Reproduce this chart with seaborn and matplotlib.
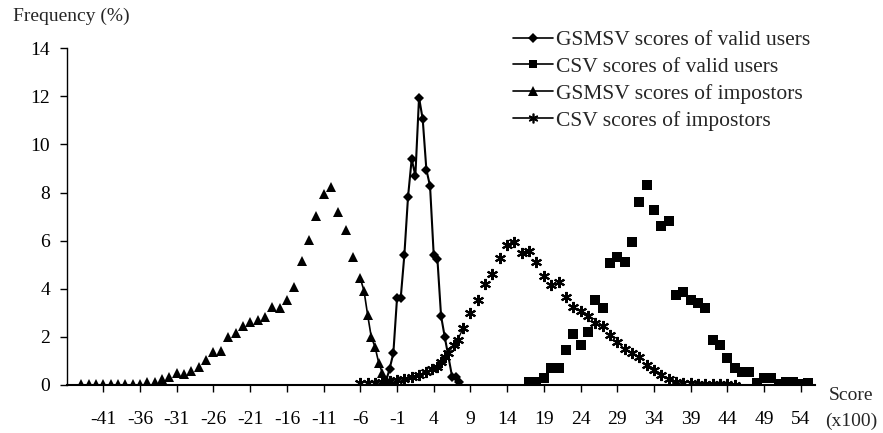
import matplotlib
matplotlib.use("Agg")
import matplotlib.pyplot as plt
import seaborn as sns
import pandas as pd
from matplotlib.lines import Line2D

# --- values (score in x100, frequency in %) ---
# GSMSV scores of impostors (triangles)
tri_x = list(range(-44, -6)) + [-6, -5.5, -5, -4.5, -4, -3.5, -3, -2.5]
tri_y = [0.02, 0.02, 0.02, 0.02, 0.02, 0.02, 0.02, 0.02, 0.03, 0.14,
         0.14, 0.24, 0.35, 0.48, 0.46, 0.60, 0.76, 1.02, 1.37, 1.40,
         2.00, 2.15, 2.47, 2.62, 2.68, 2.84, 3.24, 3.18, 3.55, 4.06,
         5.17, 6.02, 7.02, 7.95, 8.25, 7.20, 6.45, 5.30,
         4.43, 3.92, 2.91, 1.98, 1.59, 0.93, 0.50, 0.20]

# GSMSV scores of valid users (diamonds)
dia_x = [-2.5, -2, -1.5, -1, -0.5, 0, 0.5, 1, 1.5, 2, 2.5, 3, 3.5, 4, 4.5,
         5, 5.5, 6.5, 7, 7.5]
dia_y = [0.15, 0.68, 1.32, 3.60, 3.60, 5.40, 7.82, 9.39, 8.70, 11.95, 11.05,
         8.95, 8.27, 5.40, 5.25, 2.87, 2.00, 0.35, 0.35, 0.14]

# CSV scores of valid users (squares)
sq_x = list(range(17, 56))
sq_y = [0.14, 0.14, 0.28, 0.69, 0.69, 1.45, 2.12, 1.66, 2.22, 3.53,
        3.19, 5.05, 5.33, 5.12, 5.93, 7.59, 8.30, 7.27, 6.62, 6.81,
        3.74, 3.85, 3.53, 3.39, 3.19, 1.87, 1.66, 1.12, 0.69, 0.55,
        0.55, 0.10, 0.30, 0.30, 0.05, 0.12, 0.12, 0.05, 0.10]

# CSV scores of impostors (asterisks)
ast_x = list(range(-6, 4)) + [3.75, 4.5, 5, 5.5, 6, 6.75, 7.25] + list(range(8, 46))
ast_y = [0.07, 0.07, 0.10, 0.14, 0.17, 0.21, 0.24, 0.32, 0.42, 0.55,
         0.66, 0.76, 0.97, 1.15, 1.34, 1.66, 1.87,
         2.35, 2.98, 3.53, 4.18, 4.61, 5.29, 5.82, 5.96, 5.50, 5.58,
         5.10, 4.53, 4.16, 4.29, 3.67, 3.23, 3.09, 2.87, 2.57, 2.43,
         2.08, 1.77, 1.48, 1.31, 1.18, 0.83, 0.62, 0.42, 0.24, 0.14,
         0.10, 0.07, 0.04, 0.04, 0.03, 0.02, 0.02, 0.01]

x_ticks = list(range(-41, 55, 5))
x_tick_labels = ['-41', '-36', '-31', '-26', '-21', '-16', '-11', '-6', '-1', '4',
                 '9', '14', '19', '24', '29', '34', '39', '44', '49', '54']
y_ticks = [0, 2, 4, 6, 8, 10, 12, 14]

labels = ['GSMSV scores of valid users', 'CSV scores of valid users',
          'GSMSV scores of impostors', 'CSV scores of impostors']

tri = pd.DataFrame({'x': tri_x, 'y': tri_y})
dia = pd.DataFrame({'x': dia_x, 'y': dia_y})
sq = pd.DataFrame({'x': sq_x, 'y': sq_y})
ast = pd.DataFrame({'x': ast_x, 'y': ast_y})

sns.set_style("ticks")
plt.rcParams['font.family'] = ['Liberation Serif', 'DejaVu Serif']

fig = plt.figure(figsize=(8.83, 4.33), dpi=100)
ax = fig.add_axes([0.0755, 0.111, 0.848, 0.7776])

star = (6, 2, 0)

# asterisks
sns.lineplot(data=ast, x='x', y='y', ax=ax, color='black', linestyle='',
             marker=star, markersize=8, markeredgewidth=1.5, markeredgecolor='black',
             sort=False, estimator=None)
sns.lineplot(data=ast[(ast.x >= 3) & (ast.x <= 8)], x='x', y='y', ax=ax, color='black',
             linewidth=1.0, sort=False, estimator=None)

# triangles, joined only in the dense steep part
sns.lineplot(data=tri, x='x', y='y', ax=ax, color='black', linestyle='',
             marker='^', markersize=7, markeredgewidth=0, sort=False, estimator=None)
sns.lineplot(data=tri[tri.x >= -6], x='x', y='y', ax=ax, color='black',
             linewidth=1.2, sort=False, estimator=None)

# squares
sns.lineplot(data=sq, x='x', y='y', ax=ax, color='black', linestyle='',
             marker='s', markersize=6.5, markeredgewidth=0, sort=False, estimator=None)

# diamonds with line
sns.lineplot(data=dia, x='x', y='y', ax=ax, color='black', linewidth=1.5,
             marker='D', markersize=4.6, markeredgewidth=0, sort=False, estimator=None)

ax.set_xlim(-46, 56)
ax.set_ylim(0, 14)
ax.set_xticks(x_ticks)
ax.set_xticklabels(x_tick_labels)
ax.set_yticks(y_ticks)
ax.set_yticklabels([str(v) for v in y_ticks])
ax.tick_params(axis='x', direction='out', length=5, width=1, pad=14, labelsize=14, colors='black')
ax.tick_params(axis='y', direction='out', length=5, width=1, pad=7, labelsize=14, colors='black')
ax.set_xlabel('')
ax.set_ylabel('')
for side in ['top', 'right']:
    ax.spines[side].set_visible(False)
ax.spines['left'].set_linewidth(1.0)
ax.spines['bottom'].set_linewidth(1.5)
ax.spines['left'].set_color('black')
ax.spines['bottom'].set_color('black')

fig.text(12.7 / 883, 1 - 16 / 433, 'Frequency (%)', ha='left', va='center', fontsize=14)
fig.text(851 / 883, 1 - 396 / 433, 'Score', ha='center', va='center', fontsize=14)
fig.text(851 / 883, 1 - 421 / 433, '(x100)', ha='center', va='center', fontsize=14)

handles = [
    Line2D([0], [0], color='black', lw=1.2, marker='D', markersize=4.6, markeredgewidth=0),
    Line2D([0], [0], color='black', lw=1.2, marker='s', markersize=6, markeredgewidth=0),
    Line2D([0], [0], color='black', lw=1.2, marker='^', markersize=6.5, markeredgewidth=0),
    Line2D([0], [0], color='black', lw=1.2, marker=star, markersize=7, markeredgewidth=1.2,
           markeredgecolor='black'),
]
fig.legend(handles, labels, loc='upper left', bbox_to_anchor=(513 / 883, 1 - 30 / 433),
           frameon=False, fontsize=15.5, handlelength=1.85, handletextpad=0.15,
           labelspacing=0.32, borderaxespad=0, borderpad=0)

fig.savefig('out.png', dpi=100)
